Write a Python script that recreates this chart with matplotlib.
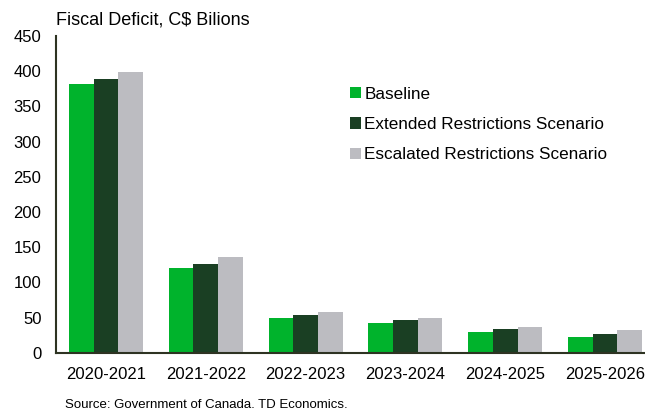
import matplotlib
matplotlib.use("Agg")
import matplotlib.pyplot as plt
import numpy as np

plt.rcParams['font.family'] = ['Liberation Sans', 'DejaVu Sans']

categories = ["2020-2021", "2021-2022", "2022-2023", "2023-2024", "2024-2025", "2025-2026"]
baseline = [382, 120, 49, 42, 29, 23]
extended = [389, 126, 53, 46, 33, 26]
escalated = [399, 136, 58, 50, 37, 32]
series_names = ["Baseline", "Extended Restrictions Scenario", "Escalated Restrictions Scenario"]
colors = ["#00B32C", "#1A3F23", "#BCBCC1"]
yticks = [0, 50, 100, 150, 200, 250, 300, 350, 400, 450]

fig = plt.figure(figsize=(6.45, 4.11), dpi=100)
ax = fig.add_axes([56/645, 1-352.7/411, 1-56/645, (352.7-36)/411])

x = np.arange(len(categories))
w = 0.2475
for i, (vals, name, c) in enumerate(zip([baseline, extended, escalated], series_names, colors)):
    ax.bar(x + (i-1)*w, vals, width=w, color=c, label=name, zorder=2)

ax.set_xlim(-0.5, 5.40)
ax.set_ylim(0, 450)
ax.set_yticks(yticks)
ax.set_xticks(x)
ax.set_xticklabels(categories)
ax.tick_params(axis='both', length=0, labelsize=12)
ax.tick_params(axis='y', pad=10.5)
ax.tick_params(axis='x', pad=10)
for s in ['top', 'right']:
    ax.spines[s].set_visible(False)
for s in ['left', 'bottom']:
    ax.spines[s].set_color('#2E3322')
    ax.spines[s].set_linewidth(1.5)

leg = ax.legend(loc='upper left', bbox_to_anchor=(0.487, 0.862), frameon=False,
                fontsize=12.3, handlelength=0.65, handleheight=0.65, handletextpad=0.2,
                labelspacing=0.9, borderaxespad=0)

fig.text(56/645, 1-20/411, "Fiscal Deficit, C$ Bilions", fontsize=13, va='center', ha='left')
fig.text(65/645, 1-405/411, "Source: Government of Canada. TD Economics.", fontsize=9.5, va='center', ha='left')

fig.savefig("out.png", dpi=100)
